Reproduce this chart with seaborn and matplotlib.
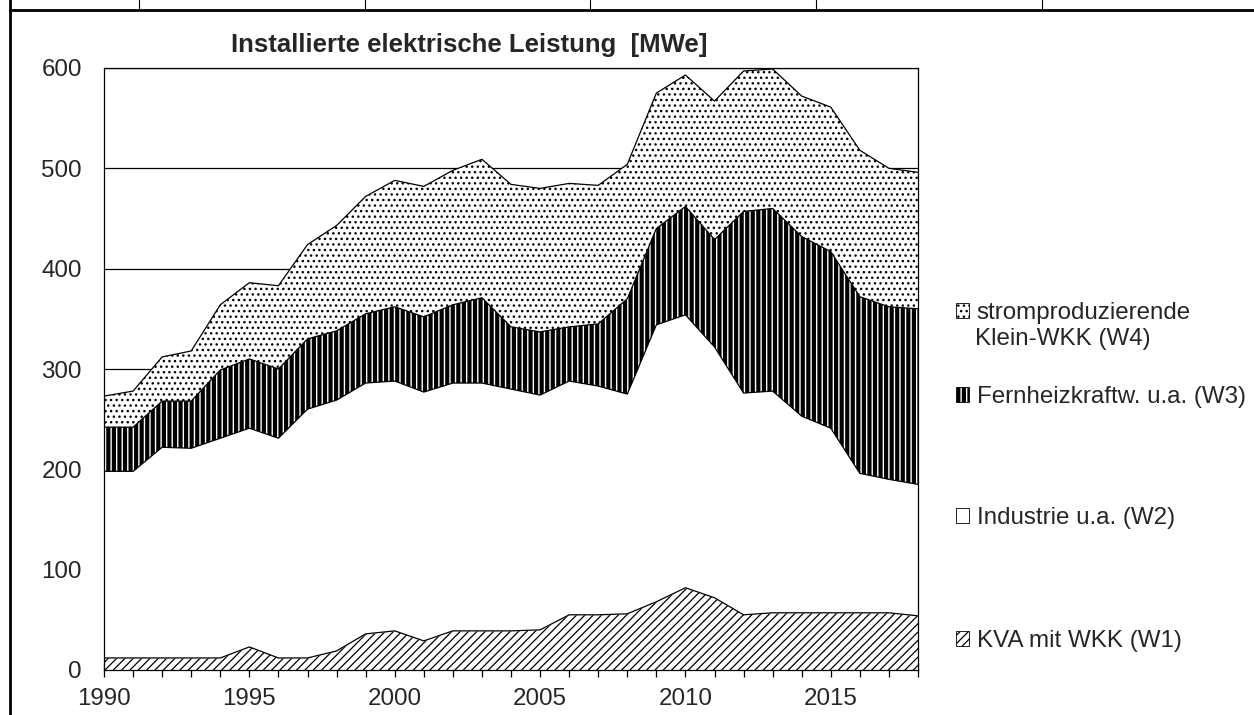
import matplotlib
matplotlib.use("Agg")
import matplotlib.pyplot as plt
from matplotlib.lines import Line2D
from matplotlib.patches import Patch
import numpy as np
import pandas as pd
import seaborn as sns

# Installed electrical capacity [MWe] per year and plant group
years = list(range(1990, 2019))
kva_w1 = [12, 12, 12, 12, 12, 23, 12, 12, 19, 36, 39, 29, 39, 39, 39,
          40, 55, 55, 56, 68, 82, 72, 55, 57, 57, 57, 57, 57, 54]
industrie_w2 = [186, 186, 210, 209, 219, 218, 219, 248, 250, 250, 249, 248, 247, 247, 241,
                234, 233, 228, 219, 276, 272, 250, 221, 221, 196, 184, 139, 133, 131]
fernheiz_w3 = [44, 44, 46, 47, 68, 69, 69, 70, 69, 69, 74, 75, 78, 85, 62,
               63, 54, 62, 95, 96, 108, 107, 181, 182, 179, 176, 176, 172, 175]
klein_w4 = [31, 36, 44, 50, 65, 76, 83, 94, 105, 117, 126, 130, 134, 138, 142,
            143, 143, 138, 134, 135, 131, 138, 140, 139, 140, 144, 146, 138, 136]

labels = {
    "W1": "KVA mit WKK (W1)",
    "W2": "Industrie u.a. (W2)",
    "W3": "Fernheizkraftw. u.a. (W3)",
    "W4": "stromproduzierende\nKlein-WKK (W4)",
}
title = "Installierte elektrische Leistung  [MWe]"
ytick_values = [0, 100, 200, 300, 400, 500, 600]

df = pd.DataFrame({"Jahr": years, "W1": kva_w1, "W2": industrie_w2,
                   "W3": fernheiz_w3, "W4": klein_w4})
stack = df[["W1", "W2", "W3", "W4"]].cumsum(axis=1)

sns.set_theme(style="white")
plt.rcParams["font.family"] = ["Liberation Sans", "DejaVu Sans"]
plt.rcParams["hatch.color"] = "black"

FS = 17.4
W, H = 1254, 715
fig = plt.figure(figsize=(W / 100, H / 100), dpi=100)
fig.patch.set_facecolor("white")
ax = fig.add_axes([104 / W, 1 - 670 / H, (918 - 104) / W, (670 - 68) / H])
ax.set_facecolor("white")

# fill pattern and hatch stroke width per group (area, legend key)
styles = {
    "W1": dict(hatch="////", hlw=0.9, key_hlw=0.9),
    "W2": dict(hatch=None, hlw=0.9, key_hlw=0.9),
    "W3": dict(hatch="|||", hlw=3.0, key_hlw=3.0),
    "W4": dict(hatch="...", hlw=1.0, key_hlw=1.0),
}

lower = np.zeros(len(years))
for key in ["W1", "W2", "W3", "W4"]:
    upper = stack[key].to_numpy()
    st = styles[key]
    with plt.rc_context({"hatch.linewidth": st["hlw"]}):
        coll = ax.fill_between(df["Jahr"], lower, upper, facecolor="white",
                               edgecolor="black", hatch=st["hatch"],
                               linewidth=0, zorder=2)
        if hasattr(coll, "set_hatch_linewidth"):
            coll.set_hatch_linewidth(st["hlw"])
    sns.lineplot(x=df["Jahr"], y=upper, ax=ax, color="black", linewidth=0.9,
                 zorder=3, legend=False)
    lower = upper

ax.set_xlim(1990, 2018)
ax.set_ylim(0, 600)
ax.set_xlabel("")
ax.set_ylabel("")

ax.set_xticks(years)
ax.set_xticklabels([str(y) if y % 5 == 0 else "" for y in years])
ax.set_yticks(ytick_values)
ax.tick_params(axis="x", direction="inout", length=10, width=0.9, color="black",
               labelsize=FS, pad=8, bottom=True)
ax.tick_params(axis="y", length=0, labelsize=FS, pad=16)

ax.grid(axis="y", color="black", linewidth=0.9)
ax.grid(axis="x", visible=False)
ax.set_axisbelow(True)
for side in ["left", "right", "top", "bottom"]:
    ax.spines[side].set_visible(True)
    ax.spines[side].set_color("black")
    ax.spines[side].set_linewidth(0.9)
ax.spines["bottom"].set_zorder(4)

fig.text(469 / W, 1 - 45 / H, title, ha="center", va="center",
         fontsize=18.5, fontweight="bold")

# one legend block per group, placed along the right margin
legend_pos = {"W4": 313, "W3": 397, "W2": 518, "W1": 641}
for key in ["W4", "W3", "W2", "W1"]:
    st = styles[key]
    with plt.rc_context({"hatch.linewidth": st["key_hlw"]}):
        handle = Patch(facecolor="white", edgecolor="black", linewidth=0.6,
                       hatch=st["hatch"])
        text = labels[key].split("\n")[0]
        leg = fig.legend(handles=[handle], labels=[text], loc="center left",
                         bbox_to_anchor=(956 / W, 1 - legend_pos[key] / H),
                         frameon=False, fontsize=FS, handlelength=0.55,
                         handleheight=0.55, handletextpad=0.3, borderpad=0,
                         borderaxespad=0)
    for p in leg.get_patches():
        if hasattr(p, "set_hatch_linewidth"):
            p.set_hatch_linewidth(st["key_hlw"])
    if "\n" in labels[key]:
        fig.text(975 / W, 1 - (legend_pos[key] + 26) / H, labels[key].split("\n")[1],
                 ha="left", va="center", fontsize=FS)

# page frame lines
fig.add_artist(Line2D([9.7 / W, 9.7 / W], [0, 1], transform=fig.transFigure,
                      color="black", linewidth=2.0))
fig.add_artist(Line2D([9.7 / W, 1], [1 - 10.3 / H, 1 - 10.3 / H],
                      transform=fig.transFigure, color="black", linewidth=2.0))
for xc in [139, 365, 590, 816, 1042]:
    fig.add_artist(Line2D([xc / W, xc / W], [1 - 10 / H, 1], transform=fig.transFigure,
                          color="black", linewidth=0.8))

fig.savefig("out.png", dpi=100, facecolor="white")
